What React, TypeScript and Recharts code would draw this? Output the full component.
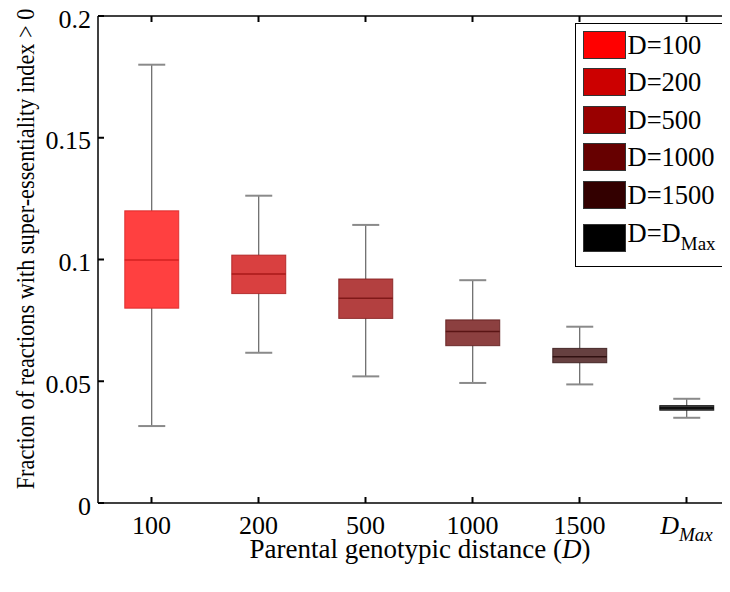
import React from "react";
import { ComposedChart, Bar, XAxis, YAxis, Legend, Customized } from "recharts";

const CATEGORIES = ["100", "200", "500", "1000", "1500", "DMax"];
const LEGEND_LABELS = ["D=100", "D=200", "D=500", "D=1000", "D=1500", "D=DMax"];
const WHISKER_LOW = [0.0316, 0.0617, 0.052, 0.0493, 0.0487, 0.035];
const Q1 = [0.08, 0.086, 0.0758, 0.0646, 0.0576, 0.0381];
const MEDIAN = [0.0998, 0.094, 0.0841, 0.0704, 0.0601, 0.039];
const Q3 = [0.12, 0.1018, 0.092, 0.0752, 0.0635, 0.04];
const WHISKER_HIGH = [0.18, 0.1262, 0.1142, 0.0915, 0.0724, 0.0428];
const Y_TICKS = [0, 0.05, 0.1, 0.15, 0.2];

// legend swatch colours; boxes use them at 75% opacity
const BOX_COLORS = ["#ff0000", "#cc0000", "#990000", "#660000", "#330000", "#000000"];
const DARK_COLORS = ["#d42020", "#a81818", "#801818", "#5a1515", "#301010", "#000000"];

const FONT = "'Liberation Serif', 'Times New Roman', serif";

const data = CATEGORIES.map((name, i) => ({
  name,
  range: [WHISKER_LOW[i], WHISKER_HIGH[i]],
  low: WHISKER_LOW[i],
  q1: Q1[i],
  median: MEDIAN[i],
  q3: Q3[i],
  high: WHISKER_HIGH[i],
}));

function BoxShape(props: any) {
  const { x, y, width, height, payload, index } = props;
  const top = Math.min(y, y + height);
  const h = Math.abs(height);
  const { low, high, q1, q3, median } = payload;
  const py = (v: number) => top + (h * (high - v)) / (high - low);
  const cx = x + width / 2;
  const cap = width / 4;
  const color = BOX_COLORS[index];
  const dark = DARK_COLORS[index];
  return (
    <g>
      <line x1={cx} x2={cx} y1={py(high)} y2={py(q3)} stroke="#444" strokeWidth={1} />
      <line x1={cx} x2={cx} y1={py(q1)} y2={py(low)} stroke="#444" strokeWidth={1} />
      <line x1={cx - cap} x2={cx + cap} y1={py(high)} y2={py(high)} stroke="#8a8a8a" strokeWidth={2} />
      <line x1={cx - cap} x2={cx + cap} y1={py(low)} y2={py(low)} stroke="#8a8a8a" strokeWidth={2} />
      <rect
        x={x}
        y={py(q3)}
        width={width}
        height={py(q1) - py(q3)}
        fill={color}
        fillOpacity={0.75}
        stroke={dark}
        strokeOpacity={0.8}
        strokeWidth={1}
      />
      <line x1={x} x2={x + width} y1={py(median)} y2={py(median)} stroke={dark} strokeWidth={1.5} />
    </g>
  );
}

function XTick(props: any) {
  const { x, y, payload } = props;
  const label = payload.value;
  return (
    <g>
      <line x1={x} x2={x} y1={y} y2={y - 6} stroke="#000" strokeWidth={2} />
      {label === "DMax" ? (
        <text x={x} y={y + 31} textAnchor="middle" fontFamily={FONT} fontSize={26} fontStyle="italic" fill="#000">
          <tspan>D</tspan>
          <tspan fontSize={19} dy={7}>Max</tspan>
        </text>
      ) : (
        <text x={x} y={y + 31} textAnchor="middle" fontFamily={FONT} fontSize={26} fill="#000">
          {label}
        </text>
      )}
    </g>
  );
}

function TopTick(props: any) {
  const { x, y } = props;
  return <line x1={x} x2={x} y1={y} y2={y + 6} stroke="#000" strokeWidth={2} />;
}

function YTick(props: any) {
  const { x, y, payload } = props;
  return (
    <g>
      <line x1={x} x2={x + 6} y1={y} y2={y} stroke="#000" strokeWidth={2} />
      <text x={x - 7} y={y} dy="0.45em" textAnchor="end" fontFamily={FONT} fontSize={26} fill="#000">
        {String(payload.value)}
      </text>
    </g>
  );
}

function AxisTitles() {
  return (
    <g fontFamily={FONT} fill="#000">
      <text x={412} y={558} textAnchor="middle" fontSize={27}>
        Parental genotypic distance (<tspan fontStyle="italic">D</tspan>)
      </text>
      <g transform="translate(17 249) rotate(-90) scale(1 1.15)">
        <text x={0} y={0} textAnchor="middle" dy="0.35em" fontSize={22.3}>
          Fraction of reactions with super-essentiality index &gt; 0
        </text>
      </g>
    </g>
  );
}

function LegendBox() {
  return (
    <div
      style={{
        position: "relative",
        width: 170,
        height: 244,
        border: "1.5px solid #000",
        background: "#fff",
        boxSizing: "border-box",
        fontFamily: FONT,
        fontSize: 26.5,
        color: "#000",
      }}
    >
      {LEGEND_LABELS.map((label, i) => {
        const top = 6.5 + i * 37.5 + (i === 5 ? 6 : 0);
        return (
          <div key={label} style={{ position: "absolute", left: 6.5, top, height: 28, display: "flex", alignItems: "center" }}>
            <div
              style={{
                width: 43,
                height: 28,
                background: BOX_COLORS[i],
                border: "1px solid #333",
                boxSizing: "border-box",
              }}
            />
            <span style={{ marginLeft: 2, lineHeight: "28px", whiteSpace: "nowrap" }}>
              {label === "D=DMax" ? (
                <>
                  D=D<sub style={{ fontSize: 19, verticalAlign: "-8px" }}>Max</sub>
                </>
              ) : (
                label
              )}
            </span>
          </div>
        );
      })}
    </div>
  );
}

export default function App() {
  return (
    <div style={{ width: 722, height: 578, overflow: "hidden", marginTop: -8 }}>
      <ComposedChart
        width={750}
        height={578}
        data={data}
        margin={{ top: 8, right: 18, bottom: 0, left: 0 }}
        barCategoryGap="25%"
      >
        <XAxis
          dataKey="name"
          height={75}
          tickSize={0}
          tickMargin={0}
          tickLine={false}
          axisLine={{ stroke: "#000", strokeWidth: 1.5 }}
          tick={<XTick />}
          interval={0}
        />
        <XAxis
          xAxisId="top"
          orientation="top"
          dataKey="name"
          height={8}
          tickSize={0}
          tickMargin={0}
          tickLine={false}
          axisLine={{ stroke: "#000", strokeWidth: 1.5 }}
          tick={<TopTick />}
          interval={0}
        />
        <YAxis
          type="number"
          domain={[0, 0.2]}
          ticks={Y_TICKS}
          width={90}
          tickSize={0}
          tickMargin={0}
          tickLine={false}
          axisLine={{ stroke: "#000", strokeWidth: 1.5 }}
          tick={<YTick />}
        />
        <Bar dataKey="range" shape={<BoxShape />} isAnimationActive={false} />
        <Legend
          layout="horizontal"
          verticalAlign="middle"
          align="center"
          content={<LegendBox />}
          wrapperStyle={{ left: 567, top: 23, width: 170, height: 244 }}
        />
        <Customized component={<AxisTitles />} />
      </ComposedChart>
    </div>
  );
}
